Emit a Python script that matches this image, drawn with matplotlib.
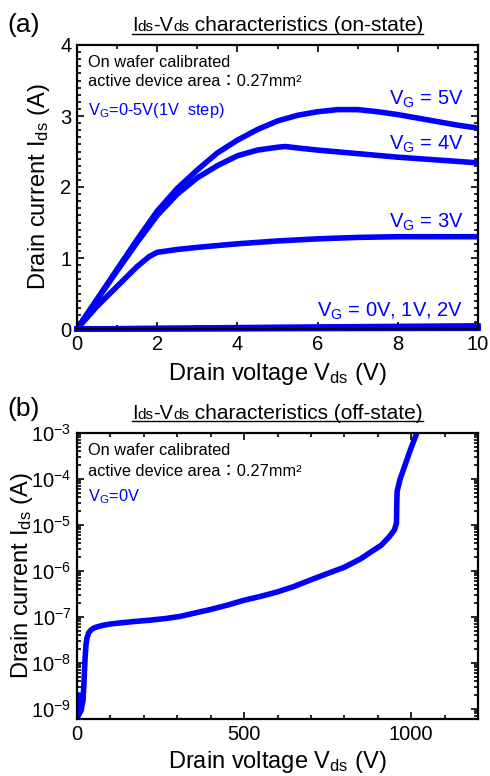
import matplotlib
matplotlib.use("Agg")
import matplotlib.pyplot as plt
from matplotlib.ticker import MultipleLocator, LogLocator, NullFormatter
from matplotlib.lines import Line2D

plt.rcParams["font.family"] = ["Liberation Sans", "Noto Sans CJK JP", "DejaVu Sans"]
plt.rcParams["mathtext.fontset"] = "custom"
plt.rcParams["mathtext.rm"] = "Liberation Sans"
plt.rcParams["mathtext.it"] = "Liberation Sans"
plt.rcParams["mathtext.default"] = "regular"

BLUE = "#0000ff"

# (a) on-state Ids-Vds, one curve per gate voltage
vds_vg5 = [0, 0.5, 1, 1.5, 2, 2.5, 3, 3.5, 4, 4.5, 5, 5.5, 6, 6.5, 7, 7.5, 8, 8.5, 9, 9.5, 10]
ids_vg5 = [0, 0.42, 0.84, 1.26, 1.66, 1.98, 2.24, 2.48, 2.66, 2.81, 2.93, 3.01, 3.06, 3.09, 3.09,
           3.06, 3.02, 2.97, 2.92, 2.87, 2.83]
vds_vg4 = [0, 0.5, 1, 1.5, 2, 2.5, 3, 3.5, 4, 4.5, 5, 5.2, 5.5, 6, 7, 8, 9, 10]
ids_vg4 = [0, 0.41, 0.82, 1.22, 1.6, 1.9, 2.13, 2.3, 2.44, 2.52, 2.56, 2.57, 2.55, 2.52, 2.47,
           2.42, 2.38, 2.34]
vds_vg3 = [0, 0.5, 1, 1.5, 1.8, 2, 2.5, 3, 4, 5, 6, 7, 8, 9, 10]
ids_vg3 = [0, 0.32, 0.6, 0.88, 1.02, 1.08, 1.12, 1.15, 1.2, 1.24, 1.27, 1.29, 1.3, 1.3, 1.3]
vds_low = [0, 2, 5, 10]
ids_vg0 = [0, 0.0, 0.005, 0.01]
ids_vg1 = [0, 0.005, 0.01, 0.02]
ids_vg2 = [0, 0.01, 0.025, 0.045]

vg_labels = ["V$_G$ = 5V", "V$_G$ = 4V", "V$_G$ = 3V", "V$_G$ = 0V, 1V, 2V"]
vg_label_y = [0.789, 0.630, 0.356, 0.042]

# (b) off-state leakage at VG = 0 V
vds_off = [0, 2, 4, 6, 8, 10, 12, 15, 18, 21, 24, 27, 30, 35, 42, 52, 65, 80, 100, 130, 170, 220,
           270, 310, 350, 400, 450, 500, 550, 600, 650, 700, 750, 800, 850, 880, 910, 935, 950,
           956, 957, 958, 967, 977, 987, 997, 1007, 1017]
ids_off = [6e-10, 1.6e-9, 7e-10, 2e-9, 8e-10, 1.8e-9, 9e-10, 1.2e-9, 1.5e-9, 4e-9, 1.2e-8,
           2.5e-8, 3.5e-8, 4.5e-8, 5.2e-8, 5.8e-8, 6.2e-8, 6.6e-8, 7e-8, 7.4e-8, 7.9e-8, 8.5e-8,
           9.3e-8, 1.03e-7, 1.2e-7, 1.45e-7, 1.8e-7, 2.3e-7, 2.8e-7, 3.5e-7, 4.6e-7, 6.4e-7,
           8.8e-7, 1.2e-6, 1.85e-6, 2.6e-6, 3.6e-6, 5.6e-6, 7.8e-6, 1.1e-5, 3e-5, 5.4e-5, 1e-4,
           1.6e-4, 2.6e-4, 4.2e-4, 6.5e-4, 1e-3]

W, H = 490, 776
fig = plt.figure(figsize=(W / 100, H / 100), dpi=100)
ax1 = fig.add_axes([77 / W, 1 - 329 / H, 401 / W, 284 / H])
ax2 = fig.add_axes([77 / W, 1 - 719 / H, 401 / W, 286 / H])


def style_axes(ax):
    for spine in ax.spines.values():
        spine.set_linewidth(1.6)
    ax.tick_params(which="both", direction="in", top=True, right=True, width=1.2,
                   labelsize=14.5, pad=4)
    ax.tick_params(which="major", length=5)
    ax.tick_params(which="minor", length=3)


LW = 4
LABEL_SIZE = 17
NOTE_SIZE = 11.8

# panel (a)
ax1.plot(vds_vg5, ids_vg5, color=BLUE, lw=LW, solid_capstyle="round")
ax1.plot(vds_vg4, ids_vg4, color=BLUE, lw=LW, solid_capstyle="round")
ax1.plot(vds_vg3, ids_vg3, color=BLUE, lw=LW, solid_capstyle="round")
for ids in (ids_vg0, ids_vg1, ids_vg2):
    ax1.plot(vds_low, ids, color=BLUE, lw=LW, clip_on=False)
ax1.set_xlim(0, 10)
ax1.set_ylim(0, 4)
ax1.xaxis.set_major_locator(MultipleLocator(2))
ax1.xaxis.set_minor_locator(MultipleLocator(1))
ax1.yaxis.set_major_locator(MultipleLocator(1))
ax1.yaxis.set_minor_locator(MultipleLocator(0.1))
style_axes(ax1)
ax1.set_xlabel("Drain voltage V$_{ds}$ (V)", fontsize=LABEL_SIZE, va="baseline")
ax1.set_ylabel("Drain current I$_{ds}$ (A)", fontsize=LABEL_SIZE)
ax1.xaxis.set_label_coords(0.5, -0.178)
ax1.yaxis.set_label_coords(-0.062, 0.5)

for lab, y in zip(vg_labels, vg_label_y):
    ax1.text(0.963, y, lab, transform=ax1.transAxes, color=BLUE, fontsize=14.5,
             ha="right", va="baseline")
ax1.text(0.027, 0.923, "On wafer calibrated", transform=ax1.transAxes, fontsize=NOTE_SIZE,
         va="baseline")
ax1.text(0.027, 0.856, "active device area：0.27mm²", transform=ax1.transAxes,
         fontsize=NOTE_SIZE, va="baseline")
ax1.text(0.027, 0.754, "V$_G$=0-5V(1V  step)", transform=ax1.transAxes, fontsize=NOTE_SIZE,
         va="baseline", color=BLUE)

# panel (b)
ax2.semilogy(vds_off, ids_off, color=BLUE, lw=LW, solid_capstyle="round")
ax2.set_xlim(0, 1200)
ax2.set_ylim(6e-10, 1e-3)
ax2.xaxis.set_major_locator(MultipleLocator(500))
ax2.xaxis.set_minor_locator(MultipleLocator(100))
ax2.yaxis.set_major_locator(LogLocator(base=10, numticks=20))
ax2.yaxis.set_minor_locator(LogLocator(base=10, subs=[2, 3, 4, 5, 6, 7, 8, 9], numticks=20))
ax2.yaxis.set_minor_formatter(NullFormatter())
style_axes(ax2)
ax2.set_xlabel("Drain voltage V$_{ds}$ (V)", fontsize=LABEL_SIZE, va="baseline")
ax2.set_ylabel("Drain current I$_{ds}$ (A)", fontsize=LABEL_SIZE)
ax2.xaxis.set_label_coords(0.5, -0.173)
ax2.yaxis.set_label_coords(-0.105, 0.5)

ax2.text(0.027, 0.923, "On wafer calibrated", transform=ax2.transAxes, fontsize=NOTE_SIZE,
         va="baseline")
ax2.text(0.027, 0.851, "active device area：0.27mm²", transform=ax2.transAxes,
         fontsize=NOTE_SIZE, va="baseline")
ax2.text(0.027, 0.760, "V$_G$=0V", transform=ax2.transAxes, fontsize=NOTE_SIZE,
         va="baseline", color=BLUE)

# panel letters
fig.text(7 / W, 1 - 32 / H, "(a)", fontsize=19, va="baseline")
fig.text(7 / W, 1 - 416 / H, "(b)", fontsize=19, va="baseline")


def underlined_title(ax, state, base_px):
    pieces = [("I", 14.3), ("ds", 11), ("-V", 14.3), ("ds", 11),
              (" characteristics (" + state + ")", 15)]
    renderer = fig.canvas.get_renderer()
    y = 1 - base_px / H
    texts = [fig.text(0, y, s, fontsize=size, va="baseline", ha="left") for s, size in pieces]
    widths = [t.get_window_extent(renderer).width for t in texts]
    pos = ax.get_position()
    x = (pos.x0 + pos.x1) / 2 * W - sum(widths) / 2
    x_start = x
    for t, w in zip(texts, widths):
        t.set_x(x / W)
        x += w
    uy = 1 - (base_px + 2.5) / H
    fig.add_artist(Line2D([x_start / W, x / W], [uy, uy], color="black", lw=1.0))


underlined_title(ax1, "on-state", 31)
underlined_title(ax2, "off-state", 419)

fig.savefig("out.png", dpi=100)
